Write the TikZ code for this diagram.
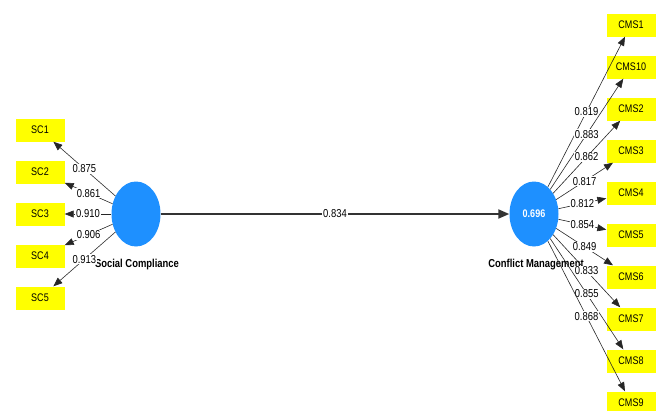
\documentclass[tikz,border=0pt]{standalone}
\usepackage{fontspec}
\setmainfont{Liberation Sans}[FakeStretch=0.82]
\usetikzlibrary{arrows.meta,shapes.geometric}
\definecolor{lvblue}{RGB}{30,144,255}
\definecolor{indyellow}{RGB}{255,255,0}
\begin{document}
\begin{tikzpicture}[x=1pt,y=-1pt,
  ind/.style={fill=indyellow, minimum width=49pt, minimum height=23pt, inner sep=0pt, font=\fontsize{11}{13}\selectfont},
  lv/.style={shape=ellipse, fill=lvblue, minimum width=49pt, minimum height=65pt, inner sep=0pt},
  load/.style={-{Triangle[length=9pt,width=7pt]}, draw=black!85, line width=0.6pt},
  mainarrow/.style={-{Triangle[length=11pt,width=9pt]}, draw=black!80, line width=2pt},
  lab/.style={fill=white, inner sep=0.8pt, font=\fontsize{11.5}{13}\selectfont},
  lvlab/.style={font=\bfseries\fontsize{11.5}{13}\selectfont, inner sep=0pt}]
\useasboundingbox (0,0) rectangle (664,410);
\node[lv] (sc) at (136,214) {};
\node[lv, text=white, font=\bfseries\fontsize{11}{13}\selectfont] (cm) at (534,214) {0.696};
\node[lvlab] (sclab) at (137,265) {Social Compliance};
\node[lvlab] (cmlab) at (536,265) {Conflict Management};
% SC indicators
\foreach \n/\y in {1/130,2/172,3/214,4/256,5/298}
  \node[ind] (SC\n) at (40,\y) {SC\n};
% CMS indicators
\foreach \n/\y in {1/25,10/67,2/109,3/151,4/193,5/235,6/277,7/319,8/361,9/403}
  \node[ind] (CMS\n) at (631,\y) {CMS\n};
% loadings SC
\foreach \n/\v in {1/0.875,2/0.861,3/0.910,4/0.906,5/0.913}
  \draw[load] (sc) -- node[lab, pos=0.5] {\v} (SC\n);
% loadings CMS
\foreach \n/\v in {1/0.819,10/0.883,2/0.862,3/0.817,4/0.812,5/0.854,6/0.849,7/0.833,8/0.855,9/0.868}
  \draw[load] (cm) -- node[lab, pos=0.5] {\v} (CMS\n);
% path
\draw[mainarrow] (sc) -- node[lab] {0.834} (cm);
\end{tikzpicture}
\end{document}
